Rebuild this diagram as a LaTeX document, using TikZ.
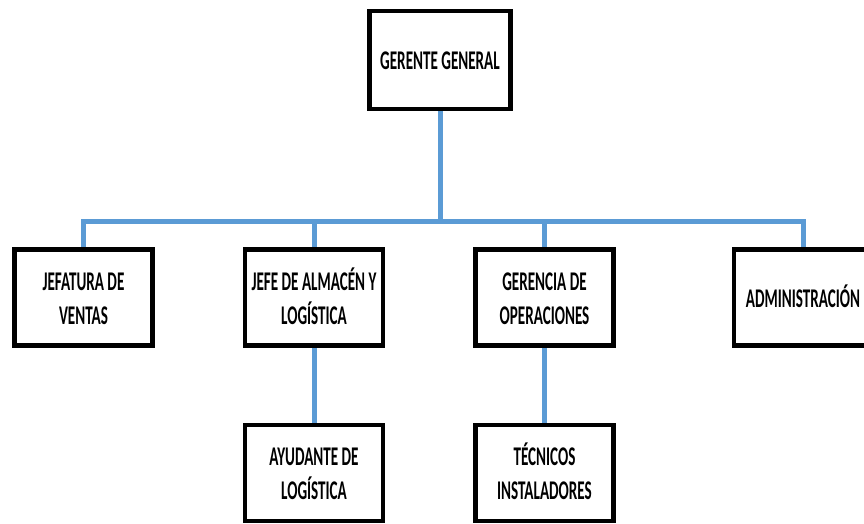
\documentclass[tikz,border=0pt]{standalone}
\usepackage{fontspec}
\setmainfont{Carlito}
\usepackage{tikz}
\usetikzlibrary{positioning, shadows, backgrounds}
\definecolor{azulLinea}{HTML}{5B9BD5}
\newcommand{\estrecho}[1]{\raisebox{-3pt}[\height][\depth]{\scalebox{0.56}[1]{\begin{tabular}{@{}c@{}}#1\end{tabular}}}}
\tikzset{
	cargo/.style={rectangle, minimum width=138pt, minimum height=96pt, inner sep=1pt, align=center, draw=black, line width=4.5pt, fill=white, drop shadow={shadow xshift=1.5pt, shadow yshift=-1.5pt, opacity=0.25}, font=\bfseries\fontsize{27}{34}\selectfont},
	linea/.style={draw=azulLinea, line width=5pt}
}
\begin{document}
\begin{tikzpicture}[x=1pt, y=-1pt]
		\useasboundingbox (0,0) rectangle (864,524);
		\node (gerente) [cargo, minimum width=141pt, minimum height=98pt] at (440,60) {\estrecho{GERENTE GENERAL}};
		
		% Segundo nivel
		\node (ventas) [cargo] at (83.5,297.5) {\estrecho{JEFATURA DE\\VENTAS}};
		\node (almacen) [cargo, right=88pt of ventas] {\estrecho{JEFE DE ALMACÉN Y\\LOGÍSTICA}};
		\node (operaciones) [cargo, right=88pt of almacen] {\estrecho{GERENCIA DE\\OPERACIONES}};
		\node (admin) [cargo, right=116pt of operaciones] {\estrecho{ADMINISTRACIÓN}};
		
		% Tercer nivel
		\node (ayudante) [cargo, below=75pt of almacen] {\estrecho{AYUDANTE DE\\LOGÍSTICA}};
		\node (tecnicos) [cargo, below=75pt of operaciones] {\estrecho{TÉCNICOS\\INSTALADORES}};
		
		\coordinate (barra) at (440,221);
		\begin{scope}[on background layer]
			\draw [linea] (gerente.south) -- (barra);
			\draw [linea] (ventas.north) |- (barra) -| (admin.north);
			\foreach \n in {almacen, operaciones}
				\draw [linea] (\n.north) -- (\n.north |- barra);
			\draw [linea] (almacen.south) -- (ayudante.north);
			\draw [linea] (operaciones.south) -- (tecnicos.north);
		\end{scope}
	\end{tikzpicture}
\end{document}
